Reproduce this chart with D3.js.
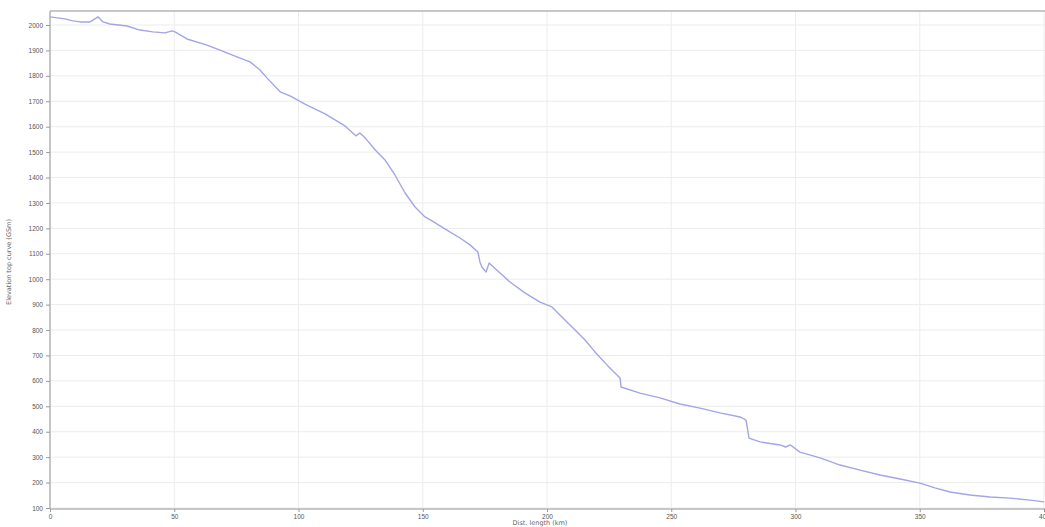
<!DOCTYPE html>
<html><head><meta charset="utf-8">
<script src="https://cdn.jsdelivr.net/npm/d3@7"></script>
<style>body{margin:0;background:#fff}svg{display:block;font-family:"DejaVu Sans",sans-serif}</style>
</head><body>
<svg id="c" width="1045" height="527"></svg>
<script>
const distKm = [0,6.0,9.3,12.1,16.1,18.1,19.3,21.3,24.1,31.0,36.2,41.4,46.3,49.1,50.3,55.1,63.2,71.2,76.5,80.5,84.5,87.3,92.6,96.6,102.6,110.7,118.7,123.1,124.7,126.8,130.8,134.8,138.8,142.9,146.9,150.9,152.9,158.9,165.0,169.0,172.2,173.0,173.8,175.5,176.7,181.1,185.1,191.1,197.2,202.0,206.4,211.3,215.3,219.3,224.5,229.4,229.8,237.4,245.5,253.5,261.6,269.6,277.7,280.1,281.3,285.7,293.8,296.0,298.0,301.8,309.9,317.9,326.0,334.0,342.1,350.1,356.1,362.2,370.2,378.3,386.3,394.4,400];
const elevation = [2032,2024,2016,2012,2012,2024,2032,2012,2004,1996,1980,1973,1969,1977,1973,1945,1921,1890,1870,1855,1823,1792,1737,1721,1689,1650,1603,1564,1575,1556,1509,1469,1410,1339,1284,1245,1234,1198,1162,1135,1107,1068,1048,1028,1064,1024,989,946,910,891,847,800,761,714,659,611,576,552,533,509,493,474,458,446,375,360,348,340,348,320,297,269,249,230,214,198,179,163,151,143,139,131,124];
const xTicks = [0,50,100,150,200,250,300,350,400];
const yTicks = [100,200,300,400,500,600,700,800,900,1000,1100,1200,1300,1400,1500,1600,1700,1800,1900,2000];
const xTitle = "Dist. length (km)";
const yTitle = "Elevation top curve (GSm)";

const svg = d3.select("#c");
const x = d3.scaleLinear().domain([0,400]).range([50,1044]);
const y = d3.scaleLinear().domain([100,2055]).range([508,11]);

// grid
svg.append("g").selectAll("line").data(yTicks).join("line")
  .attr("x1",50).attr("x2",1045).attr("y1",d=>y(d)).attr("y2",d=>y(d))
  .attr("stroke","#ececec").attr("stroke-width",1);
svg.append("g").selectAll("line").data(xTicks).join("line")
  .attr("y1",11).attr("y2",508).attr("x1",d=>x(d)).attr("x2",d=>x(d))
  .attr("stroke","#ececec").attr("stroke-width",1);

// top frame
svg.append("line").attr("x1",50).attr("x2",1045).attr("y1",11).attr("y2",11)
  .attr("stroke","#b4b4b4").attr("stroke-width",1.5);

// axes
const yAxis = svg.append("g").attr("transform","translate(50,0)")
  .call(d3.axisLeft(y).tickValues(yTicks).tickSize(4).tickPadding(3).tickFormat(d3.format("d")));
const xAxis = svg.append("g").attr("transform","translate(0,509)")
  .call(d3.axisBottom(x).tickValues(xTicks).tickSize(3).tickPadding(2).tickFormat(d3.format("d")));
[yAxis,xAxis].forEach(a=>{
  a.select(".domain").attr("stroke","#b4b4b4").attr("stroke-width",1.5);
  a.selectAll(".tick line").attr("stroke","#999");
  a.selectAll("text").attr("fill","#555").style("font-size","6.5px");
});
yAxis.select(".domain").attr("d","M0,11V509");
xAxis.select(".domain").attr("d","M50,0H1045");

// titles
svg.append("text").attr("x",540).attr("y",525).attr("text-anchor","middle")
  .attr("fill","#666").style("font-size","6.5px").text(xTitle);
svg.append("text").attr("transform","translate(11,262) rotate(-90)").attr("text-anchor","middle")
  .attr("fill","#666").style("font-size","6.5px").text(yTitle);

// line
const line = d3.line().x((d,i)=>x(distKm[i])).y(d=>y(d));
svg.append("path").datum(elevation).attr("d",line)
  .attr("fill","none").attr("stroke","#a3a5e6").attr("stroke-width",1.4).attr("stroke-linejoin","round");
</script>
</body></html>
